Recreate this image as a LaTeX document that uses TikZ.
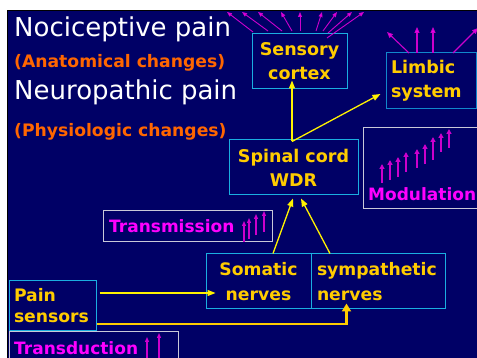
\documentclass[tikz,border=0pt]{standalone}
\usepackage{fontspec}
\setmainfont{DejaVu Sans}
\usetikzlibrary{arrows.meta,calc}
\definecolor{bg}{HTML}{000066}
\definecolor{cyanb}{HTML}{1AAEE0}
\definecolor{limb}{HTML}{1188CC}
\definecolor{gold}{HTML}{FFCC00}
\definecolor{orng}{HTML}{FF6600}
\definecolor{mag}{HTML}{FF00FF}
\definecolor{magline}{HTML}{CC00CC}
\definecolor{greyb}{HTML}{C8C8D8}
\begin{document}
\begin{tikzpicture}[x=1pt,y=-1pt,
  cbox/.style={draw=cyanb, line width=1pt, text=gold, inner sep=0pt,
    font=\bfseries\fontsize{17.5}{24}\selectfont},
  wbox/.style={draw=greyb, line width=1pt, inner sep=0pt},
  title/.style={anchor=base west, inner sep=0pt, text=white, font=\fontsize{26}{26}\selectfont},
  sub/.style={anchor=base west, inner sep=0pt, text=orng, font=\bfseries\fontsize{17.2}{17}\selectfont},
  mlabel/.style={anchor=base west, inner sep=0pt, text=mag, font=\bfseries\fontsize{17}{17}\selectfont},
  yarrow/.style={draw=yellow, line width=1.3pt, -{Triangle[length=8pt,width=6pt]}},
  garrow/.style={draw=gold, line width=2.6pt, -{Triangle[length=8pt,width=9pt]}},
  fan/.style={draw=magline, line width=0.9pt, -{Triangle[length=5pt,width=4pt,fill=mag]}},
  marrow/.style={draw=magline, line width=1.6pt, -{Triangle[length=5pt,width=5pt,fill=mag]}}
]
\useasboundingbox (0,0) rectangle (477,358);
\clip (0,0) rectangle (477,358);
\fill[white] (0,0) rectangle (477,358);
\filldraw[fill=bg, draw=black, line width=0.8pt] (7,10) rectangle (480,362);

% titles
\node[title] (t1) at (14,37) {Nociceptive pain};
\node[sub] (t2) at (14,68) {(Anatomical changes)};
\node[title] (t3) at (14,100) {Neuropathic pain};
\node[sub] (t4) at (14,137) {(Physiologic changes)};

% boxes
\node[cbox, minimum width=95, minimum height=55, align=center] (sensory) at (299.5,61.5) {Sensory\\cortex};
\node[cbox, draw=limb, minimum height=56, text width=80, inner xsep=5pt, align=left] (limbic) at (431,81) {Limbic\\system};
\node[cbox, minimum width=129, minimum height=55, align=center] (spinal) at (293.5,167.5) {Spinal cord\\WDR};
\node[cbox, minimum width=105, minimum height=55, align=center, font=\bfseries\fontsize{17.2}{25}\selectfont] (somatic) at (258.5,281.5) {Somatic\\nerves};
\node[cbox, minimum height=55, text width=122, inner xsep=6pt, align=left, font=\bfseries\fontsize{17.2}{25}\selectfont] (symp) at (378,281.5) {sympathetic\\nerves};
\node[cbox, minimum height=50, text width=77, inner xsep=5pt, align=left, font=\bfseries\fontsize{17.2}{21}\selectfont] (pain) at (52.5,306) {Pain\\sensors};

% white boxes
\node[wbox, minimum width=114, minimum height=81] (modbox) at (420,168.5) {};
\node[mlabel] (modl) at (368,201) {Modulation};
\node[wbox, minimum width=169, minimum height=31] (transbox) at (187.5,226.5) {};
\node[mlabel] (transl) at (109,233) {Transmission};
\node[wbox, minimum width=169, minimum height=32] (tdbox) at (93.5,348) {};
\node[mlabel] (tdl) at (14,354) {Transduction};

% yellow connectors
\draw[yarrow] ($(somatic.north)+(14.5,0)$) -- ($(spinal.south)+(-0.5,3)$);
\draw[yarrow] ($(symp.north)+(-48,0)$) -- ($(spinal.south)+(7.5,3)$);
\coordinate (sc) at ($(spinal.north)+(-1.5,2)$);
\draw[yarrow] (sc) -- ($(sensory.south)+(-7.5,-9)$);
\draw[yarrow] (sc) -- ($(limbic.west)+(-5,13)$);
\draw[yarrow] ($(pain.east)+(3,-13)$) -- ($(somatic.west)+(10,11.5)$);
\draw[garrow] ($(pain.east)+(0,18)$) -| ($(symp.south west)+(36,-6)$);

% sensory fan
\foreach \a/\b/\c/\d in {253/32/227/12, 268/31/242/12, 282/31/258/12, 292/31/281/12, 300/31/300/12, 316/31/322/12, 323/31/337/12, 328/33/352/12, 327/38/364/12}
  \draw[fan] (\a,\b) -- (\c,\d);
% limbic fan
\foreach \a/\b/\c/\d in {409/53/387/32, 417/53/417/27, 433/53/433/27, 453/53/478/28}
  \draw[fan, line width=1.1pt, -{Triangle[length=6pt,width=5pt,fill=mag]}] (\a,\b) -- (\c,\d);
% modulation arrows
\foreach \x/\t/\b in {382/164/183, 390/160/180, 398/157/177, 406/152/172, 417/149/168, 425/144/164, 433/137/160, 441/133/152, 449/129/148}
  \draw[marrow] (\x,\b) -- (\x,\t);
% transmission arrows
\foreach \x/\t/\b in {244/221/242, 249/218/239, 256/214/235, 264/211/232}
  \draw[fan, line width=1.1pt] (\x,\b) -- (\x,\t);
% transduction arrows
\foreach \x/\t in {147/337, 159/333}
  \draw[fan, line width=1.1pt] (\x,362) -- (\x,\t);
\end{tikzpicture}
\end{document}
